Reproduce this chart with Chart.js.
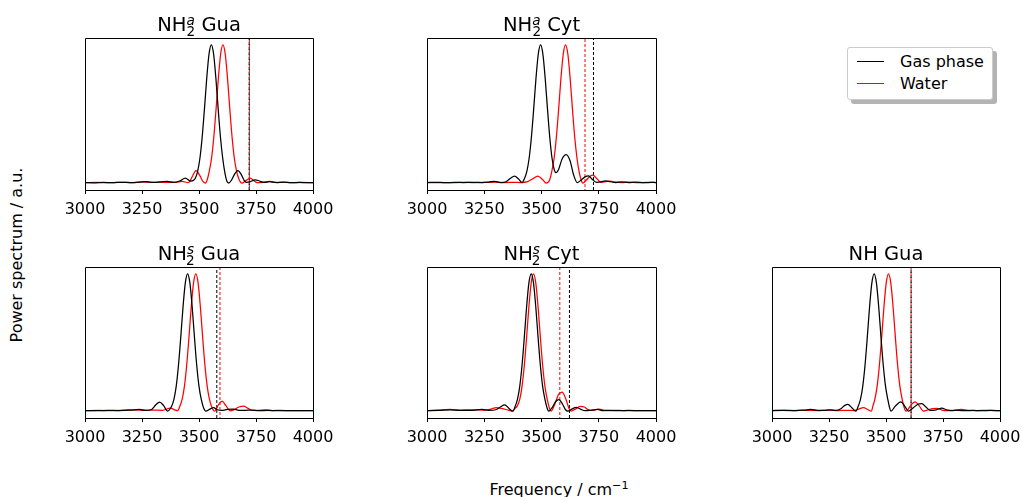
<!DOCTYPE html>
<html><head><meta charset="utf-8">
<script src="https://cdn.jsdelivr.net/npm/chart.js@4.4.1/dist/chart.umd.min.js"></script>
<style>
html,body{margin:0;padding:0;background:#fff;width:1022px;height:497px;overflow:hidden;font-family:"DejaVu Sans",sans-serif;color:#000;}
.panel{position:absolute;}
.txt{position:absolute;white-space:nowrap;color:#000;font-family:"DejaVu Sans",sans-serif;}
.sup{line-height:0;font-style:italic;}
.sub{line-height:0;}
.legend{position:absolute;left:847px;top:47px;width:144px;height:51px;border:1px solid #cccccc;border-radius:3px;background:#fff;box-shadow:4px 4px 0 #b3b3b3;}
.lline{position:absolute;height:1px;width:27px;left:857px;}
</style>
</head><body>
<script>
// ---------------- data ----------------
const xTicks = [3000, 3250, 3500, 3750, 4000];
const seriesNames = ["Gas phase", "Water"];

// NH2^a Gua
const gasNH2aGua = [[3000,0.004],[3040,0.002],[3080,0.005],[3120,0.003],[3160,0.006],[3200,0.004],[3240,0.007],[3270,0.010],[3300,0.005],[3330,0.008],[3360,0.012],[3390,0.006],[3415,0.015],[3440,0.036],[3462,0.015],[3474,0.018],[3484,0.035],[3494,0.085],[3504,0.180],[3514,0.334],[3524,0.539],[3534,0.760],[3544,0.934],[3554,1.000],[3564,0.934],[3574,0.760],[3584,0.539],[3594,0.334],[3604,0.180],[3614,0.070],[3622,0.015],[3630,0.000],[3642,0.020],[3656,0.065],[3671,0.090],[3686,0.060],[3698,0.020],[3708,0.005],[3725,0.010],[3747,0.024],[3765,0.015],[3785,0.005],[3810,0.010],[3840,0.004],[3870,0.007],[3900,0.003],[3940,0.005],[3970,0.003],[4000,0.004]];
const waterNH2aGua = [[3000,0.003],[3050,0.005],[3100,0.003],[3150,0.005],[3200,0.004],[3250,0.008],[3290,0.005],[3330,0.007],[3370,0.005],[3400,0.006],[3425,0.012],[3454,0.004],[3470,0.045],[3487,0.090],[3505,0.050],[3518,0.010],[3528,0.000],[3537,0.030],[3545,0.085],[3555,0.180],[3565,0.334],[3575,0.539],[3585,0.760],[3595,0.934],[3605,1.000],[3615,0.934],[3625,0.760],[3635,0.539],[3645,0.334],[3655,0.180],[3665,0.085],[3675,0.030],[3688,0.000],[3705,0.018],[3725,0.036],[3742,0.015],[3755,0.003],[3780,0.006],[3810,0.013],[3835,0.005],[3870,0.006],[3910,0.003],[3950,0.005],[4000,0.003]];

// NH2^a Cyt
const gasNH2aCyt = [[3000,0.004],[3040,0.006],[3080,0.003],[3120,0.005],[3160,0.004],[3200,0.006],[3240,0.004],[3270,0.007],[3295,0.013],[3320,0.004],[3345,0.010],[3365,0.035],[3382,0.050],[3400,0.030],[3415,0.004],[3426,0.035],[3436,0.085],[3446,0.180],[3456,0.334],[3466,0.539],[3476,0.760],[3486,0.934],[3496,1.000],[3506,0.934],[3516,0.760],[3526,0.539],[3536,0.334],[3546,0.180],[3556,0.095],[3564,0.075],[3575,0.100],[3590,0.175],[3608,0.206],[3625,0.160],[3640,0.060],[3656,0.003],[3672,0.020],[3690,0.045],[3705,0.052],[3720,0.030],[3740,0.006],[3760,0.008],[3780,0.016],[3800,0.010],[3825,0.004],[3850,0.009],[3880,0.004],[3910,0.007],[3950,0.003],[3980,0.005],[4000,0.004]];
const waterNH2aCyt = [[3000,0.003],[3050,0.004],[3100,0.003],[3150,0.005],[3200,0.004],[3250,0.005],[3300,0.007],[3340,0.004],[3380,0.006],[3410,0.004],[3440,0.010],[3460,0.030],[3484,0.050],[3505,0.025],[3520,0.000],[3535,0.020],[3545,0.085],[3555,0.180],[3565,0.334],[3575,0.539],[3585,0.760],[3595,0.934],[3605,1.000],[3615,0.934],[3625,0.760],[3635,0.539],[3645,0.334],[3655,0.180],[3665,0.075],[3672,0.030],[3680,0.000],[3695,0.020],[3712,0.050],[3725,0.057],[3740,0.035],[3760,0.005],[3780,0.010],[3800,0.015],[3820,0.008],[3850,0.004],[3880,0.007],[3920,0.003],[3960,0.005],[4000,0.004]];

// NH2^s Gua
const gasNH2sGua = [[3000,0.004],[3050,0.003],[3100,0.006],[3150,0.004],[3200,0.007],[3240,0.012],[3265,0.005],[3290,0.010],[3310,0.045],[3327,0.066],[3345,0.040],[3362,0.000],[3380,0.035],[3390,0.085],[3400,0.180],[3410,0.334],[3420,0.539],[3430,0.760],[3440,0.934],[3450,1.000],[3460,0.934],[3470,0.760],[3480,0.539],[3490,0.334],[3500,0.180],[3510,0.085],[3520,0.025],[3530,0.000],[3548,0.015],[3564,0.025],[3580,0.010],[3600,0.005],[3625,0.012],[3650,0.015],[3675,0.006],[3700,0.005],[3730,0.008],[3760,0.004],[3800,0.005],[3850,0.003],[3900,0.004],[3950,0.003],[4000,0.003]];
const waterNH2sGua = [[3000,0.003],[3060,0.005],[3120,0.003],[3180,0.008],[3220,0.010],[3260,0.005],[3300,0.008],[3340,0.006],[3374,0.022],[3395,0.008],[3406,0.004],[3416,0.035],[3426,0.085],[3436,0.180],[3446,0.334],[3456,0.539],[3466,0.760],[3476,0.934],[3486,1.000],[3496,0.934],[3506,0.760],[3516,0.539],[3526,0.334],[3536,0.180],[3546,0.085],[3556,0.030],[3568,0.000],[3585,0.045],[3601,0.073],[3618,0.040],[3637,0.002],[3655,0.012],[3675,0.030],[3696,0.036],[3715,0.020],[3735,0.005],[3760,0.006],[3790,0.010],[3820,0.004],[3860,0.006],[3900,0.003],[3950,0.004],[4000,0.003]];

// NH2^s Cyt
const gasNH2sCyt = [[3000,0.004],[3050,0.006],[3100,0.010],[3150,0.005],[3200,0.006],[3240,0.012],[3270,0.005],[3300,0.010],[3320,0.030],[3339,0.045],[3358,0.020],[3375,0.000],[3385,0.035],[3395,0.085],[3405,0.180],[3415,0.334],[3425,0.539],[3435,0.760],[3445,0.934],[3455,1.000],[3465,0.934],[3475,0.760],[3485,0.539],[3495,0.334],[3505,0.180],[3515,0.085],[3524,0.025],[3532,0.000],[3548,0.030],[3562,0.070],[3576,0.083],[3592,0.050],[3605,0.010],[3615,0.000],[3633,0.015],[3651,0.028],[3670,0.015],[3690,0.003],[3715,0.006],[3745,0.012],[3770,0.004],[3800,0.006],[3840,0.003],[3880,0.005],[3930,0.003],[3970,0.004],[4000,0.003]];
const waterNH2sCyt = [[3000,0.004],[3050,0.008],[3100,0.012],[3150,0.008],[3200,0.010],[3250,0.008],[3280,0.015],[3302,0.025],[3325,0.020],[3350,0.010],[3372,0.000],[3385,0.020],[3395,0.040],[3405,0.085],[3415,0.180],[3425,0.334],[3435,0.539],[3445,0.760],[3455,0.934],[3465,1.000],[3475,0.934],[3485,0.760],[3495,0.539],[3505,0.334],[3515,0.180],[3525,0.085],[3535,0.020],[3542,0.000],[3558,0.050],[3574,0.120],[3590,0.138],[3607,0.085],[3620,0.020],[3630,0.000],[3648,0.015],[3668,0.035],[3687,0.030],[3705,0.010],[3725,0.005],[3750,0.015],[3775,0.006],[3800,0.004],[3840,0.006],[3880,0.003],[3930,0.004],[4000,0.003]];

// NH Gua
const gasNHGua = [[3000,0.004],[3050,0.006],[3100,0.004],[3140,0.007],[3170,0.012],[3200,0.005],[3230,0.006],[3255,0.010],[3280,0.005],[3300,0.015],[3318,0.040],[3333,0.049],[3350,0.025],[3368,0.000],[3378,0.035],[3388,0.085],[3398,0.180],[3408,0.334],[3418,0.539],[3428,0.760],[3438,0.934],[3448,1.000],[3458,0.934],[3468,0.760],[3478,0.539],[3488,0.334],[3498,0.180],[3508,0.085],[3515,0.030],[3522,0.000],[3540,0.035],[3565,0.068],[3585,0.030],[3598,0.000],[3620,0.025],[3640,0.050],[3657,0.054],[3675,0.030],[3695,0.005],[3720,0.010],[3745,0.022],[3765,0.010],[3790,0.004],[3820,0.006],[3850,0.003],[3880,0.006],[3920,0.003],[3960,0.005],[4000,0.003]];
const waterNHGua = [[3000,0.003],[3050,0.005],[3100,0.004],[3150,0.006],[3200,0.004],[3250,0.007],[3290,0.004],[3330,0.006],[3360,0.004],[3380,0.015],[3401,0.025],[3420,0.012],[3436,0.000],[3443,0.040],[3451,0.085],[3461,0.180],[3471,0.334],[3481,0.539],[3491,0.760],[3501,0.934],[3511,1.000],[3521,0.934],[3531,0.760],[3541,0.539],[3551,0.334],[3561,0.180],[3571,0.085],[3580,0.025],[3588,0.000],[3600,0.020],[3615,0.055],[3628,0.068],[3645,0.040],[3664,0.000],[3685,0.010],[3705,0.018],[3723,0.020],[3745,0.008],[3770,0.004],[3800,0.007],[3830,0.012],[3860,0.005],[3900,0.004],[3950,0.006],[4000,0.003]];

// reference (vertical dashed) frequencies per panel
const refGas   = [3720, 3727, 3578, 3622, 3610];
const refWater = [3721, 3690, 3592, 3580, 3610];

// ---------------- layout ----------------
const panels = [
  {gas: gasNH2aGua, water: waterNH2aGua, title: 'NH<span class="sup">a</span><span class="sub">2</span> Gua', box:{l:85, t:38, w:228, h:152}},
  {gas: gasNH2aCyt, water: waterNH2aCyt, title: 'NH<span class="sup">a</span><span class="sub">2</span> Cyt', box:{l:427, t:38, w:229, h:152}},
  {gas: gasNH2sGua, water: waterNH2sGua, title: 'NH<span class="sup">s</span><span class="sub">2</span> Gua', box:{l:85, t:267, w:228, h:151}},
  {gas: gasNH2sCyt, water: waterNH2sCyt, title: 'NH<span class="sup">s</span><span class="sub">2</span> Cyt', box:{l:427, t:267, w:229, h:151}},
  {gas: gasNHGua,   water: waterNHGua,   title: 'NH Gua', box:{l:772, t:267, w:228, h:151}}
];

const ASC = 0.928, DESC = 0.236;
function placeText(html, x, baseline, size, align) {
  const d = document.createElement('div');
  d.className = 'txt';
  const lh = Math.round(size * 1.3);
  d.style.fontSize = size + 'px';
  d.style.lineHeight = lh + 'px';
  d.innerHTML = html;
  document.body.appendChild(d);
  const top = baseline - ((lh - (ASC + DESC) * size) / 2 + ASC * size);
  d.style.top = top + 'px';
  const w = d.getBoundingClientRect().width;
  if (align === 'center') d.style.left = (x - w / 2) + 'px';
  else d.style.left = x + 'px';
  return d;
}

const framePlugin = {
  id: 'frame',
  afterDatasetsDraw(chart) {
    const a = chart.chartArea, ctx = chart.ctx;
    ctx.save();
    ctx.strokeStyle = '#000';
    ctx.lineWidth = 1;
    ctx.beginPath();
    ctx.moveTo(a.left + 0.5, a.bottom + 0.5);
    ctx.lineTo(a.left + 0.5, a.top + 0.5);
    ctx.lineTo(a.right + 0.5, a.top + 0.5);
    ctx.lineTo(a.right + 0.5, a.bottom + 0.5);
    ctx.stroke();
    ctx.restore();
  }
};

const toPts = arr => arr.map(p => ({x: p[0], y: p[1]}));

const titleDivs = [];
panels.forEach((p, i) => {
  const b = p.box, padL = 30, padR = 30, padT = 2, axisH = 36;
  const div = document.createElement('div');
  div.className = 'panel';
  div.style.left = (b.l - padL) + 'px';
  div.style.top = (b.t - padT) + 'px';
  div.style.width = (b.w + padL + padR) + 'px';
  div.style.height = (b.h + padT + axisH) + 'px';
  const cv = document.createElement('canvas');
  div.appendChild(cv);
  document.body.appendChild(div);
  new Chart(cv, {
    type: 'line',
    data: {datasets: [
      {label: seriesNames[0], data: toPts(p.gas), borderColor: '#000000', borderWidth: 1.25, pointRadius: 0, cubicInterpolationMode: 'monotone', fill: false},
      {label: seriesNames[1], data: toPts(p.water), borderColor: '#ff0000', borderWidth: 1.25, pointRadius: 0, cubicInterpolationMode: 'monotone', fill: false},
      {label: 'ref gas', data: [{x: refGas[i], y: -0.05}, {x: refGas[i], y: 1.05}], borderColor: '#000000', borderWidth: 1, borderDash: [3, 2], pointRadius: 0},
      {label: 'ref water', data: [{x: refWater[i], y: -0.05}, {x: refWater[i], y: 1.05}], borderColor: '#ff0000', borderWidth: 1, borderDash: [3, 2], borderDashOffset: 2, pointRadius: 0}
    ]},
    options: {
      responsive: true, maintainAspectRatio: false, animation: false, devicePixelRatio: 1,
      events: [],
      layout: {padding: {left: padL, right: padR, top: padT, bottom: 0}},
      plugins: {legend: {display: false}, tooltip: {enabled: false}, title: {display: false}},
      scales: {
        x: {
          type: 'linear', min: 3000, max: 4000,
          afterBuildTicks: s => { s.ticks = xTicks.map(v => ({value: v})); },
          afterFit: s => { s.height = axisH; },
          grid: {display: true, drawOnChartArea: false, drawTicks: true, tickLength: 4, tickWidth: 1, tickColor: '#000'},
          border: {display: true, color: '#000', width: 1},
          ticks: {color: '#000', font: {family: 'DejaVu Sans', size: 16}, padding: 6, maxRotation: 0, autoSkip: false, callback: v => String(v)}
        },
        y: {type: 'linear', min: -0.05, max: 1.05, display: false}
      }
    },
    plugins: [framePlugin]
  });
  titleDivs.push(placeText(p.title, b.l + b.w / 2, b.t - 7, 19.5, 'center'));
});

// superscript / subscript fine positioning
document.querySelectorAll('.sup').forEach(s => { s.style.fontSize = '13.6px'; s.style.verticalAlign = '5.7px'; });
document.querySelectorAll('.sub').forEach(s => { s.style.fontSize = '13.6px'; s.style.verticalAlign = '-5.3px'; s.style.marginLeft = '-8.2px'; });
// recenter titles after sizing changes
titleDivs.forEach((d, k) => {
  const b = panels[k].box;
  const w = d.getBoundingClientRect().width;
  d.style.left = (b.l + b.w / 2 - w / 2) + 'px';
});

// axis labels
placeText('Frequency / cm<span style="font-size:11.2px;vertical-align:5.6px;line-height:0">\u22121</span>', 559, 495, 16, 'center');
const yl = document.createElement('div');
yl.className = 'txt';
yl.style.fontSize = '16px';
yl.style.lineHeight = '20px';
yl.textContent = 'Power spectrum / a.u.';
document.body.appendChild(yl);
const ylw = yl.getBoundingClientRect().width;
yl.style.left = (17 - ylw / 2) + 'px';
yl.style.top = (255 - 10) + 'px';
yl.style.transform = 'rotate(-90deg)';
yl.style.transformOrigin = '50% 50%';

// legend
const lg = document.createElement('div');
lg.className = 'legend';
document.body.appendChild(lg);
[['#000000', 61, 66.7], ['#ff0000', 83, 89]].forEach((c, k) => {
  const l = document.createElement('div');
  l.className = 'lline';
  l.style.background = c[0];
  l.style.top = c[1] + 'px';
  document.body.appendChild(l);
  placeText(seriesNames[k], 900, c[2], 16, 'left');
});
</script>
</body></html>
